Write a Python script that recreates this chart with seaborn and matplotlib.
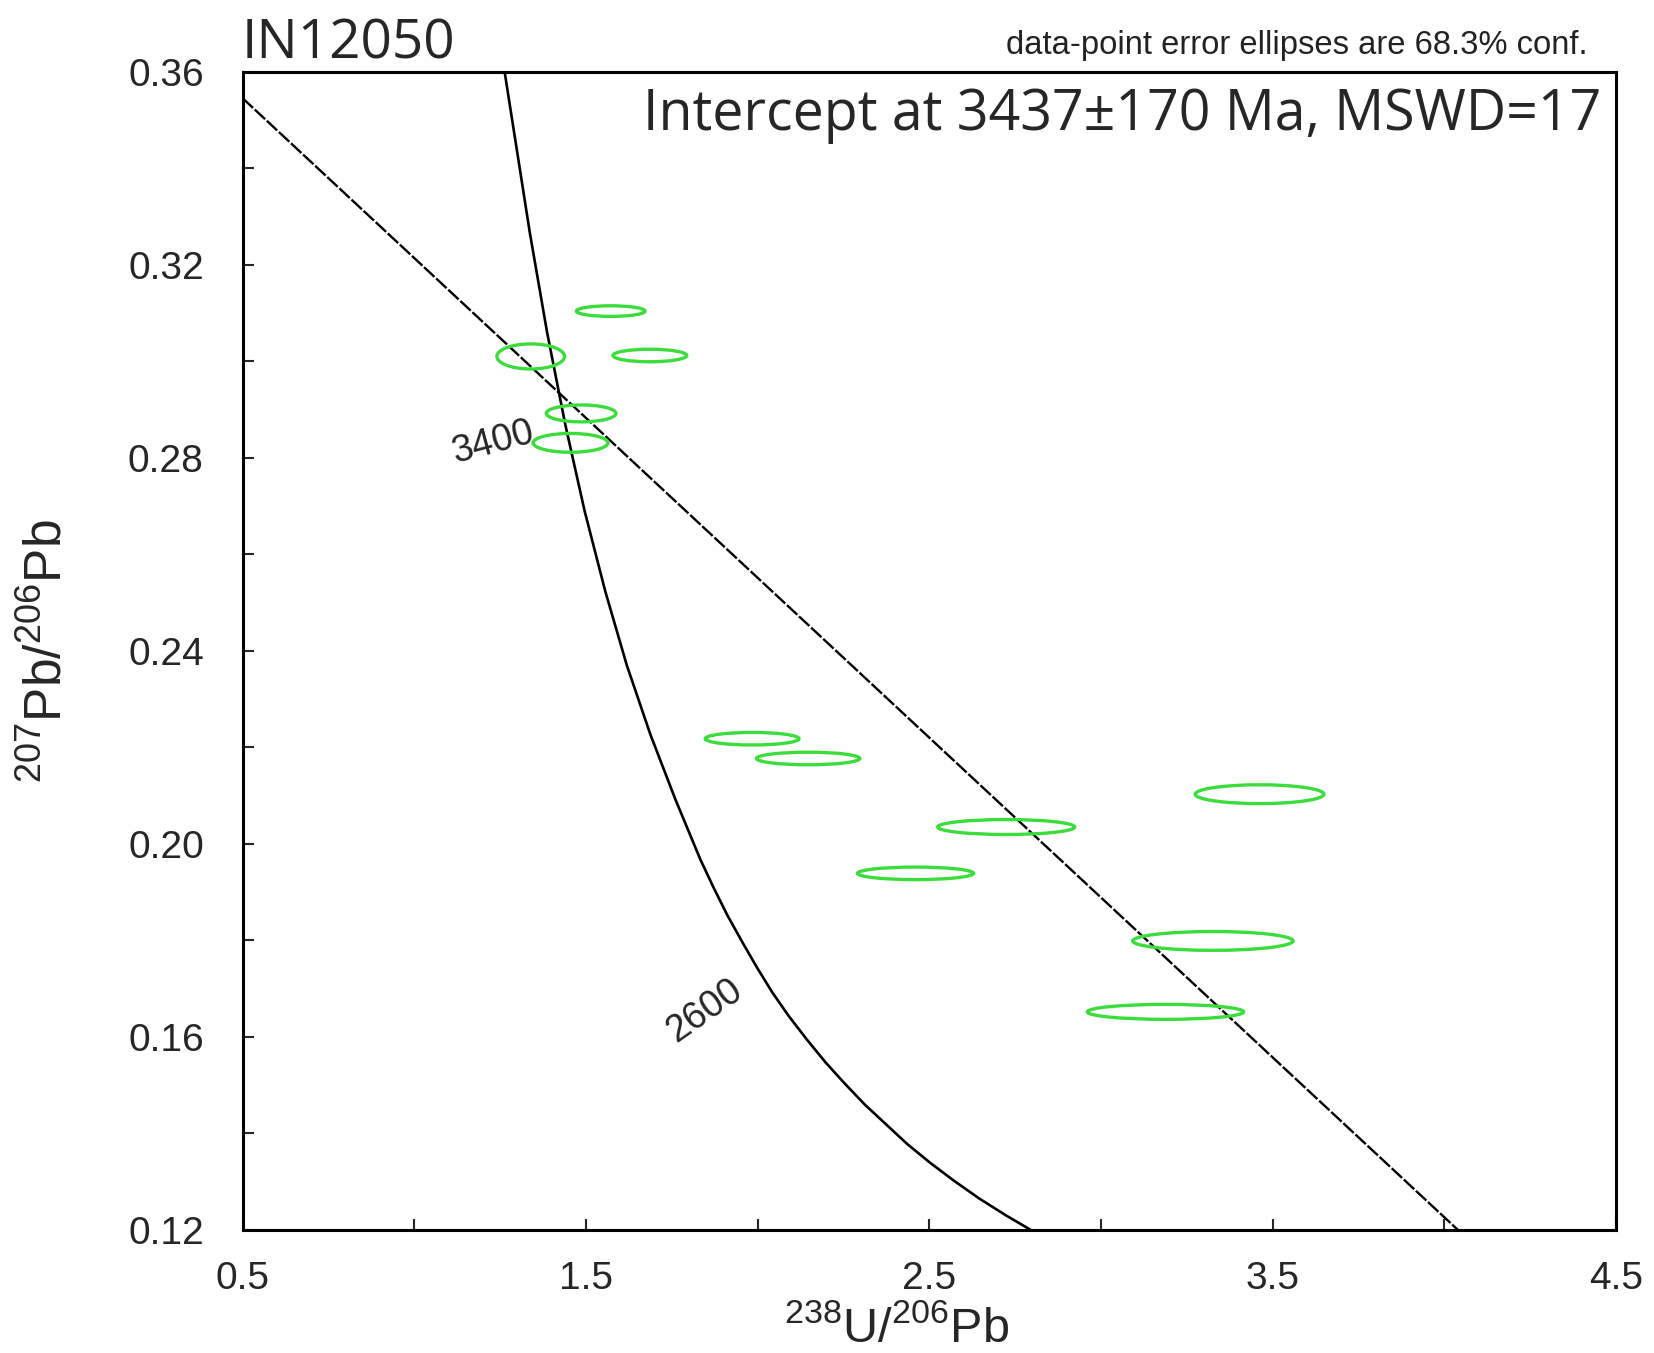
import matplotlib
matplotlib.use("Agg")
import matplotlib.pyplot as plt
import seaborn as sns
import pandas as pd
from matplotlib.patches import Ellipse
from matplotlib.ticker import MultipleLocator

# concordia curve
conc_x = [1.263, 1.337, 1.387, 1.440, 1.496, 1.556, 1.619, 1.688, 1.760, 1.833, 1.872,
          1.912, 1.955, 1.998, 2.043, 2.091, 2.143, 2.197, 2.253, 2.312, 2.374, 2.436,
          2.503, 2.572, 2.646, 2.724, 2.796]
conc_y = [0.3600, 0.3264, 0.3059, 0.2868, 0.2690, 0.2524, 0.2370, 0.2226, 0.2093, 0.1968, 0.1909,
          0.1852, 0.1797, 0.1744, 0.1692, 0.1643, 0.1595, 0.1548, 0.1504, 0.1460, 0.1419, 0.1378,
          0.1339, 0.1302, 0.1265, 0.1230, 0.1200]

# discordia regression line
disc_x = [0.5, 4.04]
disc_y = [0.3545, 0.12]

# data-point error ellipses: centre, full width (x), full height (y)
ell_x = [1.572, 1.339, 1.686, 1.486, 1.455, 1.984, 2.147, 3.462, 2.724, 2.460, 3.326, 3.188]
ell_y = [0.3104, 0.3010, 0.3012, 0.2892, 0.2831, 0.2218, 0.2177, 0.2103, 0.2035, 0.1939, 0.1799, 0.1652]
ell_w = [0.200, 0.197, 0.215, 0.203, 0.218, 0.273, 0.301, 0.375, 0.399, 0.338, 0.467, 0.455]
ell_h = [0.0022, 0.0052, 0.0026, 0.0035, 0.0039, 0.0026, 0.0026, 0.0039, 0.0031, 0.0026, 0.0039, 0.0031]

# age labels on the concordia
age_text = ["3400", "2600"]
age_x = [1.231, 1.846]
age_y = [0.2831, 0.1655]
age_rot = [15, 35]

x_ticks = [0.5, 1.5, 2.5, 3.5, 4.5]
y_ticks = [0.12, 0.16, 0.20, 0.24, 0.28, 0.32, 0.36]

sns.set_style("white")
plt.rcParams['font.family'] = ['Liberation Sans', 'DejaVu Sans']
plt.rcParams['mathtext.fontset'] = 'custom'
plt.rcParams['mathtext.rm'] = 'Liberation Sans'
plt.rcParams['mathtext.it'] = 'Liberation Sans'

fig = plt.figure(figsize=(16.54, 13.53), dpi=100)
ax = fig.add_axes([0.1467, 0.0909, 0.8303, 0.8561])

conc = pd.DataFrame({"x": conc_x, "y": conc_y})
disc = pd.DataFrame({"x": disc_x, "y": disc_y})
sns.lineplot(data=conc, x="x", y="y", ax=ax, color="black", lw=1.9, sort=False)
sns.lineplot(data=disc, x="x", y="y", ax=ax, color="black", lw=1.7,
             linestyle=(0, (6, 1)), sort=False)

for x, y, w, h in zip(ell_x, ell_y, ell_w, ell_h):
    ax.add_patch(Ellipse((x, y), w, h, fill=False, edgecolor="#3ddc3d", lw=2.4, zorder=3))

for t, x, y, r in zip(age_text, age_x, age_y, age_rot):
    ax.text(x, y, t, rotation=r, fontsize=27, ha="center", va="center")

ax.set_xlim(0.5, 4.5)
ax.set_ylim(0.12, 0.36)
ax.xaxis.set_minor_locator(MultipleLocator(0.5))
ax.yaxis.set_minor_locator(MultipleLocator(0.02))
ax.set_xticks(x_ticks)
ax.set_xticklabels([f"{v:.1f}" for v in x_ticks])
ax.set_yticks(y_ticks)
ax.set_yticklabels([f"{v:.2f}" for v in y_ticks])
ax.tick_params(which="both", direction="in", length=8, width=1.5, labelsize=28)
ax.tick_params(axis="y", which="both", left=True, pad=28)
ax.tick_params(axis="x", which="both", bottom=True, pad=22)
for s in ax.spines.values():
    s.set_linewidth(2.2)
    s.set_color("black")

ax.set_xlabel(r"$^{238}$U/$^{206}$Pb", fontsize=35, labelpad=7)
ax.xaxis.label.set_x(0.476)
ax.set_ylabel(r"$^{207}$Pb/$^{206}$Pb", fontsize=37, labelpad=40)

fig.text(0.146, 0.957, "IN12050", fontsize=39.5, family=['Open Sans', 'DejaVu Sans'],
         ha="left", va="baseline")
fig.text(0.960, 0.960, "data-point error ellipses are 68.3% conf.", fontsize=23.6,
         color="#222222", ha="right", va="baseline")
ax.text(0.989, 0.950, "Intercept at 3437\u00b1170 Ma, MSWD=17", transform=ax.transAxes,
        fontsize=40, family=['Open Sans', 'DejaVu Sans'], ha="right", va="baseline")

fig.savefig("out.png", dpi=100, facecolor="white")
